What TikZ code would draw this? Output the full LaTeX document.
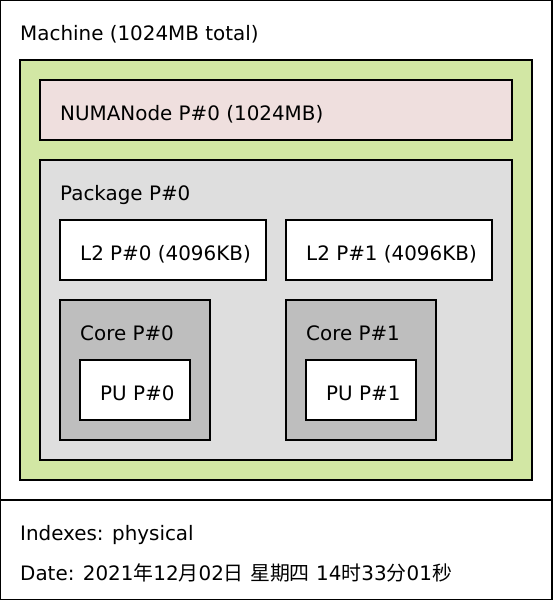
\documentclass[tikz,border=0pt]{standalone}
\usepackage{fontspec}
\setmainfont{DejaVu Sans}
\newfontfamily\cjk{Noto Sans CJK SC}
\definecolor{groupgreen}{HTML}{D2E7A4}
\definecolor{numapink}{HTML}{EFDFDE}
\definecolor{packagegray}{HTML}{DEDEDE}
\definecolor{coregray}{HTML}{BEBEBE}
\tikzstyle{box}=[draw,line width=2pt,anchor=north west,inner sep=0pt,outer sep=0pt]
\tikzstyle{machinebox}=[box,fill=white]
\tikzstyle{groupbox}=[box,fill=groupgreen]
\tikzstyle{numabox}=[box,fill=numapink]
\tikzstyle{packagebox}=[box,fill=packagegray]
\tikzstyle{cachebox}=[box,fill=white,minimum width=206pt,minimum height=60pt]
\tikzstyle{corebox}=[box,fill=coregray,minimum width=150pt,minimum height=140pt]
\tikzstyle{pubox}=[box,fill=white,minimum width=110pt,minimum height=60pt]
\tikzstyle{boxlabel}=[anchor=base west,inner sep=0pt,xshift=20pt,yshift=-40pt,font=\fontsize{19.9}{24}\selectfont]

\begin{document}
\begin{tikzpicture}[x=1pt,y=-1pt]
\useasboundingbox (0,0) rectangle (552,600);
\node[machinebox,minimum width=552pt,minimum height=500pt] at (0, 0) (machine) {};
\node[machinebox,minimum width=552pt,minimum height=100pt] at (0, 500) (legend) {};
\node[groupbox,minimum width=512pt,minimum height=420pt] at (20, 60) (group) {};
\node[numabox,minimum width=472pt,minimum height=60pt] at (40, 80) (numa) {};
\node[packagebox,minimum width=472pt,minimum height=300pt] at (40, 160) (package) {};
\node[cachebox] at (60, 220) (l2a) {};
\node[cachebox] at (286, 220) (l2b) {};
\node[corebox] at (60, 300) (corea) {};
\node[corebox] at (286, 300) (coreb) {};
\node[pubox] at (80, 360) (pua) {};
\node[pubox] at (306, 360) (pub) {};
\node[boxlabel] at (machine.north west) (machinetext) {Machine (1024MB total)};
\node[boxlabel] at (numa.north west) (numatext) {NUMANode P\#0 (1024MB)};
\node[boxlabel] at (package.north west) (packagetext) {Package P\#0};
\node[boxlabel] at (l2a.north west) (l2atext) {L2 P\#0 (4096KB)};
\node[boxlabel] at (l2b.north west) (l2btext) {L2 P\#1 (4096KB)};
\node[boxlabel] at (corea.north west) (coreatext) {Core P\#0};
\node[boxlabel] at (coreb.north west) (corebtext) {Core P\#1};
\node[boxlabel] at (pua.north west) (puatext) {PU P\#0};
\node[boxlabel] at (pub.north west) (pubtext) {PU P\#1};
\node[boxlabel] at (legend.north west) (indextext) {Indexes: physical};
\node[boxlabel] at ([yshift=-40pt]legend.north west) (datetext) {Date: 2021{\cjk 年}12{\cjk 月}02{\cjk 日} {\cjk 星期四} 14{\cjk 时}33{\cjk 分}01{\cjk 秒}};
\end{tikzpicture}
\end{document}
